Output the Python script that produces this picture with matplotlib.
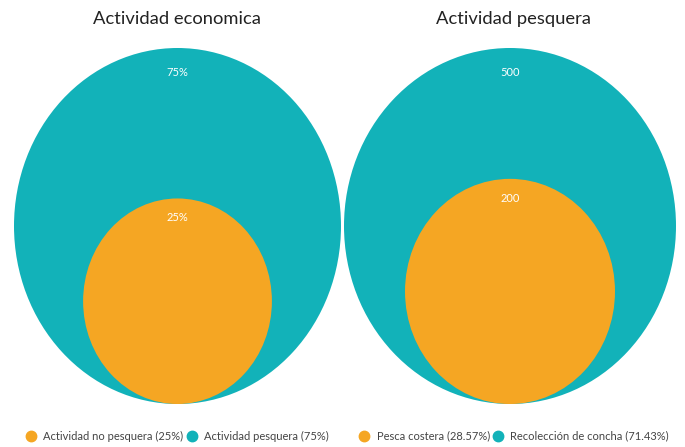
import numpy as np
import matplotlib.pyplot as plt
from matplotlib.patches import Circle
from matplotlib.lines import Line2D

plt.rcParams['font.family'] = ['Lato', 'DejaVu Sans']

# data
titles = ["Actividad economica", "Actividad pesquera"]
left_names = ["Actividad no pesquera", "Actividad pesquera"]
left_values = [25, 75]
left_labels = ["25%", "75%"]
right_names = ["Pesca costera", "Recolección de concha"]
right_values = [200, 500]
right_labels = ["200", "500"]

ORANGE = "#f5a623"
TEAL = "#12b2b9"
colors = [ORANGE, TEAL]

fig = plt.figure(figsize=(6.85, 4.47), dpi=100)

# axes boxes in pixels (outer circle edges), title/legend centres
boxes = [(14, 341), (344, 676)]
centers_px = [177, 514]
top_px, bot_px = 48, 404
W, H = 685, 447


def draw_bubbles(ax, values, labels):
    small, big = values
    R = 1.0
    r = np.sqrt(small / big) * R
    ax.add_patch(Circle((0, 0), R, color=TEAL, lw=0))
    ax.add_patch(Circle((0, -R + r), r, color=ORANGE, lw=0))
    ax.set_xlim(-1, 1)
    ax.set_ylim(-1, 1)
    ax.set_aspect('auto')
    ax.axis('off')
    ax.annotate(labels[1], (0, R), xytext=(0, -18), textcoords='offset points',
                ha='center', va='center', color='white', fontsize=8)
    ax.annotate(labels[0], (0, -R + 2 * r), xytext=(0, -14), textcoords='offset points',
                ha='center', va='center', color='white', fontsize=8)


sets = [(left_names, left_values, left_labels, True),
        (right_names, right_values, right_labels, False)]

for (x0, x1), cpx, title, (names, values, labels, pct) in zip(boxes, centers_px, titles, sets):
    ax = fig.add_axes([x0 / W, (H - bot_px) / H, (x1 - x0) / W, (bot_px - top_px) / H])
    draw_bubbles(ax, values, labels)
    cx = cpx / W
    fig.text(cx, 1 - 19 / H, title, ha='center', va='center', fontsize=13.2, color='#222222')

    total = sum(values)
    if pct:
        leg_text = [f"{n} ({v}%)" for n, v in zip(names, values)]
    else:
        leg_text = [f"{n} ({v / total * 100:.2f}%)" for n, v in zip(names, values)]
    handles = [Line2D([], [], ls='', marker='o', ms=7.5, color=c) for c in colors]
    fig.legend(handles, leg_text, loc='center', bbox_to_anchor=(cx, 1 - 436 / H),
               ncol=2, frameon=False, fontsize=8, handletextpad=0.6,
               columnspacing=0.25, handlelength=1.0, labelcolor='#444444')

fig.savefig("out.png", dpi=100)
